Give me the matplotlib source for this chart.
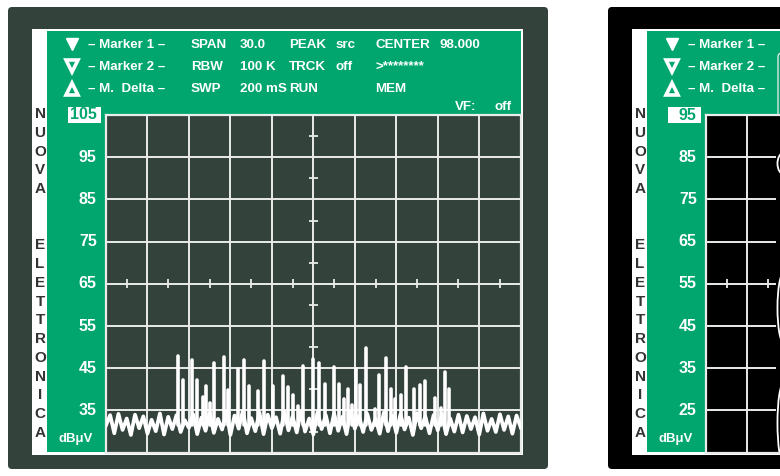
import matplotlib.pyplot as plt
import numpy as np
from matplotlib.patches import FancyBboxPatch, Rectangle, Ellipse
from matplotlib.transforms import blended_transform_factory

plt.rcParams["font.family"] = ["Liberation Sans", "DejaVu Sans"]
plt.rcParams["font.weight"] = "bold"

# sweep settings: CENTER 98.000, SPAN 30.0 -> 83..113 MHz, 10 divisions
FREQ_START, FREQ_STOP, FREQ_DIV = 83.0, 113.0, 3.0
DB_DIV, N_DB_DIV = 10, 8

# noise floor samples (dBuV), one every 0.3 MHz across the span
noise_db = [
    31.5, 33.9, 29.6, 34.2, 30.4, 33.1, 29.2, 34.0, 30.8, 33.6,
    29.5, 32.8, 30.1, 34.3, 29.3, 33.5, 30.6, 33.9, 29.9, 32.7,
    30.9, 34.1, 29.4, 33.3, 30.2, 34.4, 29.7, 33.0, 30.5, 34.6,
    29.2, 33.8, 30.7, 34.9, 29.6, 33.2, 30.1, 34.5, 29.4, 34.0,
    30.8, 33.4, 29.5, 34.7, 30.3, 33.6, 29.8, 34.8, 30.0, 33.1,
    29.3, 34.6, 30.6, 33.9, 29.6, 34.3, 30.2, 33.5, 29.4, 34.9,
    30.7, 33.7, 29.9, 34.2, 30.4, 33.0, 29.5, 34.5, 30.1, 33.8,
    29.7, 34.1, 30.5, 33.3, 29.2, 34.4, 30.8, 33.6, 29.6, 33.9,
    30.3, 34.2, 29.4, 33.1, 30.0, 34.0, 29.8, 33.7, 30.6, 33.4,
    29.3, 34.3, 30.2, 33.0, 29.9, 34.1, 30.4, 33.6, 29.5, 33.8, 31.0,
]

# FM broadcast carriers: frequency (MHz) and level (dBuV)
station_mhz = [
    88.19, 88.55, 89.20, 89.60, 89.99, 90.23, 90.52, 90.83, 91.54, 91.85,
    92.53, 93.00, 93.37, 94.02, 94.45, 95.06, 95.80, 96.14, 96.55, 96.91,
    97.23, 98.00, 98.43, 98.84, 99.49, 99.88, 100.22, 100.49, 100.77, 101.09,
    101.38, 101.81, 102.46, 102.77, 103.26, 103.62, 103.91, 104.32, 104.70, 105.25,
    105.68, 106.05, 106.80, 107.20, 107.52, 107.83,
]
station_db = [
    47.8, 42.3, 47.0, 42.3, 38.3, 40.9, 36.8, 46.2, 47.6, 39.9,
    44.9, 47.0, 40.9, 39.5, 46.8, 40.9, 43.1, 40.5, 38.7, 36.0,
    45.6, 47.2, 46.2, 41.3, 45.4, 41.3, 37.7, 40.1, 36.4, 44.9,
    41.1, 49.8, 35.3, 43.5, 47.4, 40.1, 37.7, 38.7, 45.3, 40.1,
    41.1, 42.0, 38.0, 35.7, 44.2, 40.2,
]

# reference level at the top of each screen
ref_levels = [105, 95]

# status lines of the header: (text, x offset, row)
header_items = [
    ("– Marker 1 –", 88, 0), ("SPAN", 191, 0), ("30.0", 240, 0),
    ("PEAK", 289, 0), ("src", 336, 0), ("CENTER", 375, 0), ("98.000", 440, 0),
    ("– Marker 2 –", 88, 1), ("RBW", 191, 1), ("100 K", 240, 1),
    ("TRCK", 289, 1), ("off", 336, 1), (">********", 375, 1),
    ("– M.  Delta –", 88, 2), ("SWP", 191, 2), ("200 mS", 240, 2),
    ("RUN", 289, 2), ("MEM", 375, 2),
    ("VF:", 455, 3),
]
brand = "NUOVA  ELETTRONICA"

W, H = 780, 476
GREEN = "#00a66e"
PANEL = "#33423b"
GRID = "#e9ecea"
LETTER = "#333333"
ROW_Y = [44.5, 66.5, 88.5, 107]


def draw_screen(fig, bg, dx, ref, panel_color, plot_color):
    # casing, white bezel and green frame
    bg.add_patch(FancyBboxPatch((8 + dx, 7), 540, 462,
                                boxstyle="round,pad=0,rounding_size=4",
                                fc=panel_color, ec="none"))
    bg.add_patch(Rectangle((32 + dx, 29), 491, 426, fc="white", ec="none"))
    bg.add_patch(Rectangle((47 + dx, 31), 473.5, 421, fc=GREEN, ec="none"))

    # marker legend symbols
    bg.plot(72 + dx, 43.5, marker="v", ms=9, mfc="white", mec="white", mew=1)
    bg.plot(72 + dx, 65.5, marker="v", ms=8, mfc=GREEN, mec="white", mew=2.6)
    bg.plot(72 + dx, 89.0, marker="^", ms=8, mfc=GREEN, mec="white", mew=2.6)
    # the page edge cuts the second screen, so only what fits is written
    for text, x, row in header_items:
        if x + dx + 60 < W:
            bg.text(x + dx, ROW_Y[row], text, color="white", fontsize=9.6,
                    ha="left", va="center")
    if 512 + dx < W:
        bg.text(512 + dx, ROW_Y[3], "off", color="white", fontsize=9.6,
                ha="right", va="center")

    # brand written down the white strip
    for i, ch in enumerate(brand):
        if ch != " ":
            bg.text(40 + dx, 114 + i * 18.76, ch, color=LETTER, fontsize=11,
                    ha="center", va="center")
    bg.text(76 + dx, 439, "dBμV", color="white", fontsize=9.5, ha="center",
            va="center")

    # graticule
    x0, y0, x1, y1 = 106 + dx, 115, 520.7 + dx, 452.7
    ax = fig.add_axes([x0 / W, (H - y1) / H, (x1 - x0) / W, (y1 - y0) / H])
    ax.set_facecolor(plot_color)
    ax.set_xlim(FREQ_START, FREQ_STOP)
    ax.set_ylim(ref - N_DB_DIV * DB_DIV, ref)
    ax.set_xticks(np.arange(FREQ_START, FREQ_STOP + 0.1, FREQ_DIV))
    ax.set_yticks(np.arange(ref - N_DB_DIV * DB_DIV, ref + 1, DB_DIV))
    ax.tick_params(length=0, labelbottom=False, labelleft=False)
    ax.grid(True, color=GRID, lw=1.4)
    ax.set_axisbelow(True)
    for s in ax.spines.values():
        s.set_color(GRID)
        s.set_linewidth(1.6)

    # minor marks on the centre cross
    fc = (FREQ_START + FREQ_STOP) / 2
    lc = ref - N_DB_DIV * DB_DIV / 2
    half_db = np.arange(ref - N_DB_DIV * DB_DIV + DB_DIV / 2, ref, DB_DIV)
    half_f = np.arange(FREQ_START + FREQ_DIV / 2, FREQ_STOP, FREQ_DIV)
    ax.hlines(half_db, fc - 0.33, fc + 0.33, color=GRID, lw=1.3, zorder=0.6)
    ax.vlines(half_f, lc - 1.1, lc + 1.1, color=GRID, lw=1.3, zorder=0.6)

    # level labels, reference level boxed
    lab = blended_transform_factory(bg.transData, ax.transData)
    for v in ax.get_yticks()[1:]:
        is_ref = v == ref
        if is_ref:
            bg.add_patch(Rectangle((67.5 + dx, 107), 33.5, 16, fc="white",
                                   ec="none"))
        ax.text(96.8 + dx, v, f"{int(v)}", transform=lab, fontsize=11.5,
                color=GREEN if is_ref else "white", ha="right", va="center",
                clip_on=False)
    return ax


fig = plt.figure(figsize=(W / 100, H / 100), dpi=100)
fig.patch.set_facecolor("white")
bg = fig.add_axes([0, 0, 1, 1])
bg.set_xlim(0, W)
bg.set_ylim(H, 0)
bg.axis("off")

# left screen: FM band sweep
ax1 = draw_screen(fig, bg, 0, ref_levels[0], PANEL, PANEL)
noise_mhz = np.linspace(FREQ_START, FREQ_STOP, len(noise_db))
ax1.plot(noise_mhz, noise_db, color="white", lw=2.7, solid_joinstyle="round",
         zorder=3)
spikes = ax1.vlines(station_mhz, 31.5, station_db, color="white", lw=2.6,
                    zorder=3)
spikes.set_capstyle("round")

# right screen, cut off by the page edge
bg.add_patch(FancyBboxPatch((778, 53), 30, 120,
                            boxstyle="round,pad=0,rounding_size=4",
                            fc="none", ec="#dde8e2", lw=1.0, zorder=5))
ax2 = draw_screen(fig, bg, 600, ref_levels[1], "black", "black")
ax2.add_patch(Rectangle((88.1, 0), 3, 100, fc="black", ec="none", zorder=1))
for ymid, hgt in [(83.5, 5.0), (49.3, 16.5), (22.0, 19.0)]:
    ax2.add_patch(Ellipse((88.62, ymid), 0.9, hgt, fc="black", ec="white",
                          lw=1.3, zorder=2))

fig.savefig("out.png", dpi=100, facecolor="white")
